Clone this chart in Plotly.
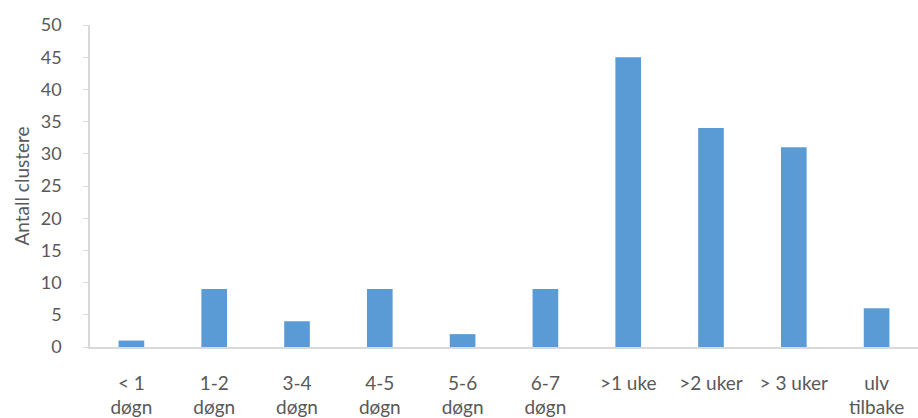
import plotly.graph_objects as go

categories = ["&lt; 1<br>døgn", "1-2<br>døgn", "3-4<br>døgn", "4-5<br>døgn", "5-6<br>døgn",
              "6-7<br>døgn", ">1 uke", ">2 uker", "> 3 uker", "ulv<br>tilbake"]
values = [1, 9, 4, 9, 2, 9, 45, 34, 31, 6]
y_ticks = [0, 5, 10, 15, 20, 25, 30, 35, 40, 45, 50]

fig = go.Figure(go.Bar(x=categories, y=values, marker=dict(color="#5B9BD5", line=dict(width=0))))

fig.update_layout(
    width=918, height=418,
    margin=dict(l=90, r=0, t=25, b=69),
    paper_bgcolor="white", plot_bgcolor="white",
    bargap=0.69,
    font=dict(family="Lato, Open Sans, sans-serif", size=18, color="#595959"),
    showlegend=False,
    xaxis=dict(showline=True, linecolor="#D9D9D9", linewidth=1.5, ticks="",
               showgrid=False, ticklabelstandoff=18, tickfont=dict(size=19)),
    yaxis=dict(range=[0, 50], tickvals=y_ticks, showline=True, linecolor="#D9D9D9", linewidth=1.5,
               ticks="outside", ticklen=5, tickcolor="#D9D9D9", showgrid=False, zeroline=False,
               tickfont=dict(size=18), ticklabelstandoff=18,
               title=dict(text="Antall clustere", font=dict(size=19), standoff=6)),
)

fig.write_html("out.html", config={"displayModeBar": False},
               post_script="document.body.style.margin='0';document.body.style.overflow='hidden';")
